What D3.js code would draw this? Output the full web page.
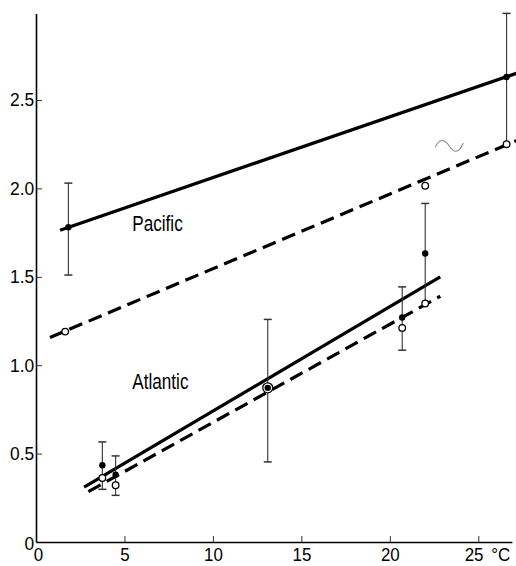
<!DOCTYPE html>
<html>
<head>
<meta charset="utf-8">
<script src="https://cdn.jsdelivr.net/npm/d3@7"></script>
<style>
  html, body { margin: 0; padding: 0; background: #fff; }
  svg { display: block; }
  .lbl { font-family: "Liberation Sans", Arial, Helvetica, sans-serif; }
</style>
</head>
<body>
<svg id="chart" width="516" height="566"></svg>
<script>
// ---- data ----
const xTicks = [0, 5, 10, 15, 20, 25];
const xTickLabels = ["0", "5", "10", "15", "20", "25"];
const yTicks = [0, 0.5, 1.0, 1.5, 2.0, 2.5];
const yTickLabels = ["0", "0.5", "1.0", "1.5", "2.0", "2.5"];
const xUnit = "°C";

// Pacific: filled points with error bars
const pacificFilledX = [1.83, 26.6];
const pacificFilledY = [1.78, 2.63];
const pacificErrHigh = [2.03, 2.99];
const pacificErrLow  = [1.51, 2.25];
// Pacific: open points
const pacificOpenX = [1.65, 22.0, 26.6];
const pacificOpenY = [1.19, 2.015, 2.25];

// Atlantic: filled points with error bars
const atlanticFilledX = [3.75, 4.5, 13.1, 20.7, 22.0];
const atlanticFilledY = [0.434, 0.381, 0.872, 1.27, 1.632];
const atlanticErrHigh = [0.566, 0.487, 1.259, 1.443, 1.915];
const atlanticErrLow  = [0.298, 0.264, 0.453, 1.085, 1.349];
// Atlantic: open points
const atlanticOpenX = [3.75, 4.5, 13.1, 20.7, 22.0];
const atlanticOpenY = [0.362, 0.321, 0.872, 1.211, 1.349];

// Regression lines (endpoints)
const pacificSolidX = [1.36, 27.15],  pacificSolidY = [1.764, 2.651];
const pacificDashX  = [0.79, 27.15],  pacificDashY  = [1.157, 2.27];
const atlanticSolidX = [2.72, 22.85], atlanticSolidY = [0.31, 1.50];
const atlanticDashX  = [2.96, 22.85], atlanticDashY  = [0.285, 1.39];

// Labels
const seriesLabels = ["Pacific", "Atlantic"];
const seriesLabelX = [5.44, 5.44];
const seriesLabelY = [1.757, 0.868];
const tildeAt = [23.36, 2.24];

// ---- drawing ----
const svg = d3.select("#chart");
const x = d3.scaleLinear().domain([0, 26.9]).range([36, 511.9]);
const y = d3.scaleLinear().domain([0, 2.99]).range([542, 13.4]);

const zip = (xs, ys) => xs.map((v, i) => [v, ys[i]]);
const line = d3.line().x(d => x(d[0])).y(d => y(d[1]));
const TICK_FS = 18.5, XTICK_FS = 18, TICK_SX = 0.94, XPAD = 6.5;

// Axes
const xAxis = d3.axisBottom(x)
  .tickValues(xTicks)
  .tickFormat((d, i) => xTickLabels[i])
  .tickSizeInner(-6).tickSizeOuter(0).tickPadding(XPAD);
const gx = svg.append("g").attr("transform", `translate(0,${y(0)})`).call(xAxis);

const yAxis = d3.axisLeft(y)
  .tickValues(yTicks)
  .tickFormat((d, i) => yTickLabels[i])
  .tickSizeInner(-6).tickSizeOuter(0).tickPadding(2);
const gy = svg.append("g").attr("transform", `translate(${x(0)},0)`).call(yAxis);

[gx, gy].forEach((g, k) => {
  g.select(".domain").attr("stroke", "#000").attr("stroke-width", 1.6);
  g.selectAll(".tick line").attr("stroke", "#333").attr("stroke-width", 1);
  g.selectAll(".tick text").attr("class", "lbl").attr("font-size", k === 0 ? XTICK_FS : TICK_FS)
    .attr("fill", "#000").attr("transform", `scale(${TICK_SX},1)`);
});
gx.selectAll(".tick").filter(d => d === 0).select("line").remove();
gy.selectAll(".tick").filter(d => d === 0).select("line").remove();
gx.selectAll(".tick").filter(d => d === 0).select("text").attr("dx", 2);
gx.selectAll(".tick").filter(d => d === 25).select("text").attr("dx", -5);
gy.selectAll(".tick").filter(d => d === 0).select("text").attr("dy", "0.4em");

svg.append("text").attr("class", "lbl")
  .attr("transform", `translate(${x(25) + 13},${y(0) + XPAD}) scale(${TICK_SX},1)`)
  .attr("dy", "0.71em")
  .attr("font-size", XTICK_FS).text(xUnit);

// Regression lines
const lines = [
  [pacificSolidX, pacificSolidY, null],
  [pacificDashX, pacificDashY, "14,7"],
  [atlanticSolidX, atlanticSolidY, null],
  [atlanticDashX, atlanticDashY, "14,7"]
];
lines.forEach(([xs, ys, dash]) => {
  svg.append("path").datum(zip(xs, ys))
    .attr("d", line)
    .attr("fill", "none").attr("stroke", "#000").attr("stroke-width", 3.2)
    .attr("stroke-dasharray", dash);
});

// Error bars
function errorBars(xs, lo, hi, openXs, openYs) {
  const g = svg.append("g").attr("stroke", "#333");
  const onOpen = (xv, yv) => openXs.some((ox, j) => Math.abs(ox - xv) < 0.05 && Math.abs(openYs[j] - yv) < 0.02);
  xs.forEach((v, i) => {
    g.append("line").attr("x1", x(v)).attr("x2", x(v))
      .attr("y1", y(hi[i])).attr("y2", y(lo[i])).attr("stroke-width", 1.1);
    g.append("line").attr("x1", x(v) - 4).attr("x2", x(v) + 4)
      .attr("y1", y(hi[i])).attr("y2", y(hi[i])).attr("stroke-width", 1.5);
    if (!onOpen(v, lo[i])) {
      g.append("line").attr("x1", x(v) - 4).attr("x2", x(v) + 4)
        .attr("y1", y(lo[i])).attr("y2", y(lo[i])).attr("stroke-width", 1.5);
    }
  });
}
errorBars(pacificFilledX, pacificErrLow, pacificErrHigh, pacificOpenX, pacificOpenY);
errorBars(atlanticFilledX, atlanticErrLow, atlanticErrHigh, atlanticOpenX, atlanticOpenY);

// Open points
function openPts(xs, ys) {
  svg.append("g").selectAll("circle").data(zip(xs, ys)).join("circle")
    .attr("cx", d => x(d[0])).attr("cy", d => y(d[1]))
    .attr("r", d => (Math.abs(d[0] - 13.1) < 0.01 ? 5 : 3.3))
    .attr("fill", "#fff").attr("stroke", "#000").attr("stroke-width", 1.3);
}
openPts(pacificOpenX, pacificOpenY);
openPts(atlanticOpenX, atlanticOpenY);

// Filled points
function filledPts(xs, ys) {
  svg.append("g").selectAll("circle").data(zip(xs, ys)).join("circle")
    .attr("cx", d => x(d[0])).attr("cy", d => y(d[1]))
    .attr("r", 3.2).attr("fill", "#000");
}
filledPts(pacificFilledX, pacificFilledY);
filledPts(atlanticFilledX, atlanticFilledY);

// Series labels
seriesLabels.forEach((t, i) => {
  svg.append("text").attr("class", "lbl")
    .attr("transform", `translate(${x(seriesLabelX[i])},${y(seriesLabelY[i])}) scale(0.78,1)`)
    .attr("font-size", 22).attr("fill", "#000").text(t);
});

// Tilde mark
const tx = x(tildeAt[0]), ty = y(tildeAt[1]);
svg.append("path")
  .attr("d", `M${tx - 14},${ty + 1} C${tx - 9},${ty - 9} ${tx - 4},${ty - 6} ${tx},${ty} S${tx + 9},${ty + 9} ${tx + 14},${ty - 3}`)
  .attr("fill", "none").attr("stroke", "#888").attr("stroke-width", 1.1);
</script>
</body>
</html>
